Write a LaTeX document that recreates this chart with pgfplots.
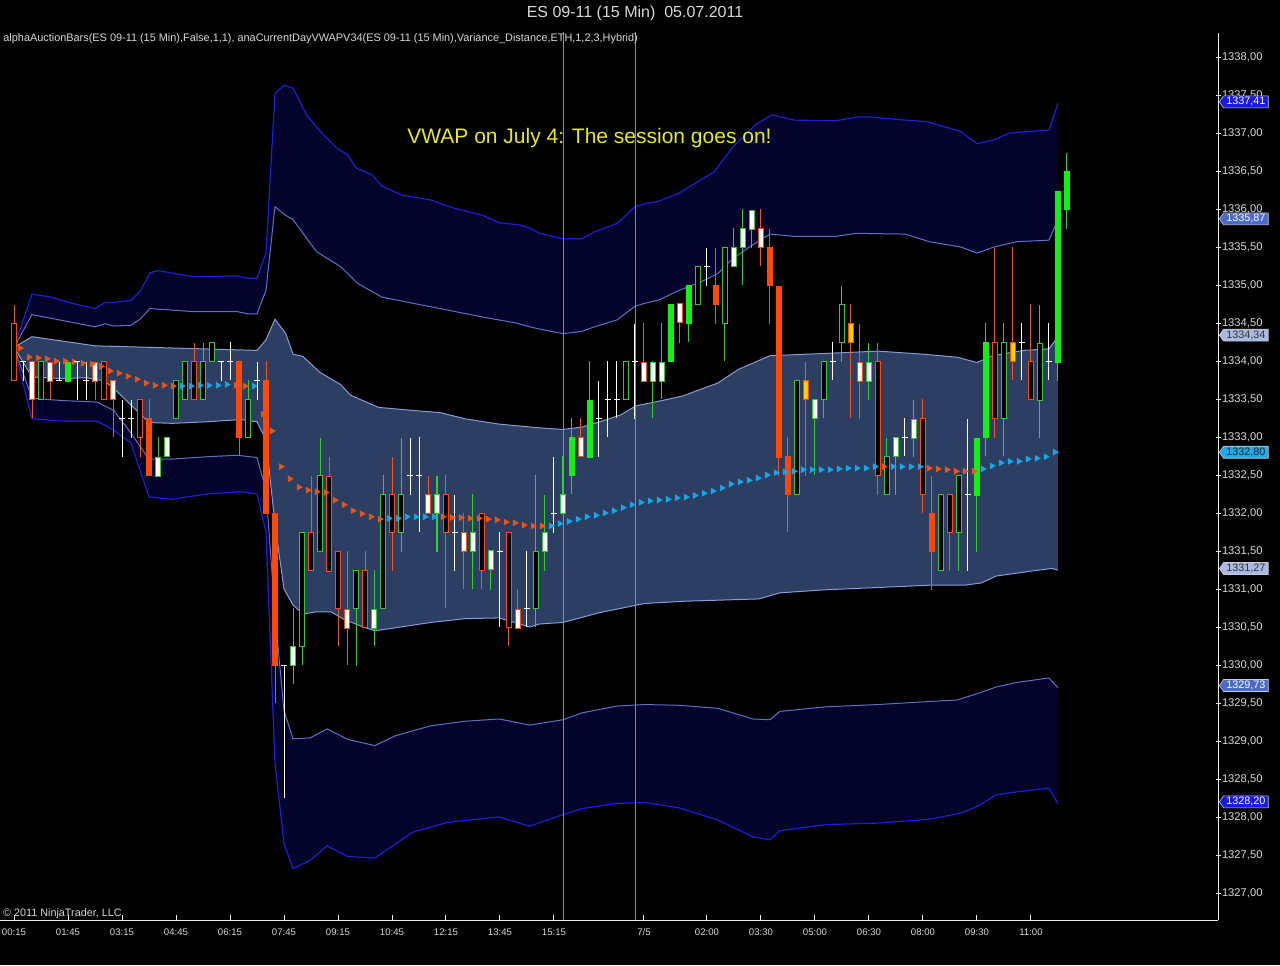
\documentclass[border=0pt]{standalone}
\usepackage{pgfplots}
\pgfplotsset{compat=1.18}
\usepackage{pgfplotstable}
\usepgfplotslibrary{fillbetween}
\usetikzlibrary{shapes.symbols}
\usepackage{fontspec}
\setmainfont{Liberation Sans}

\definecolor{cNavy}{RGB}{3,3,44}
\definecolor{cSlate}{RGB}{44,62,98}
\definecolor{cIII}{RGB}{30,30,215}
\definecolor{cII}{RGB}{95,112,200}
\definecolor{cI}{RGB}{135,155,215}
\definecolor{cSess}{RGB}{130,140,165}
\definecolor{cOr}{RGB}{255,72,10}
\definecolor{cOrW}{RGB}{235,88,40}
\definecolor{cGrF}{RGB}{20,240,20}
\definecolor{cGrO}{RGB}{50,200,50}
\definecolor{cGrW}{RGB}{50,205,50}
\definecolor{cYel}{RGB}{250,210,0}
\definecolor{cVo}{RGB}{232,86,30}
\definecolor{cVc}{RGB}{26,165,230}
\definecolor{cAx}{RGB}{235,235,235}
\definecolor{cTxt}{RGB}{215,215,215}
\definecolor{cNote}{RGB}{232,232,35}
\definecolor{cB1}{RGB}{25,25,225}
\definecolor{cB2}{RGB}{75,105,205}
\definecolor{cB3}{RGB}{170,185,225}
\definecolor{cB4}{RGB}{30,170,235}
\pagecolor{black}

% candles: i open high low close type
% type: 1 down hollow, 2 down filled, 3 down white, 4 yellow, 5 up hollow, 6 up filled, 7 up white, 8 doji
\pgfplotstableread{
i o h l c t
0 1334.50 1334.75 1333.75 1333.75 1
1 1334.00 1334.00 1333.75 1334.00 8
2 1334.00 1334.00 1333.25 1333.50 3
3 1333.50 1334.00 1333.50 1334.00 5
4 1334.00 1334.00 1333.50 1333.75 3
5 1333.75 1334.00 1333.75 1333.75 8
6 1333.75 1334.00 1333.75 1334.00 6
7 1334.00 1334.00 1333.50 1334.00 8
8 1333.75 1334.00 1333.50 1333.75 8
9 1334.00 1334.00 1333.50 1333.75 3
10 1334.00 1334.00 1333.50 1333.50 1
11 1333.75 1333.75 1333.00 1333.50 3
12 1333.25 1333.50 1332.75 1333.25 8
13 1333.25 1333.50 1333.00 1333.25 8
14 1333.50 1333.50 1332.75 1333.00 1
15 1333.25 1333.50 1332.50 1332.50 2
16 1332.50 1333.00 1332.50 1332.75 7
17 1332.75 1333.00 1332.75 1333.00 7
18 1333.25 1333.75 1333.25 1333.75 5
19 1333.50 1334.00 1333.50 1334.00 5
20 1334.00 1334.25 1333.50 1333.50 1
21 1333.50 1334.25 1333.50 1334.00 5
22 1334.00 1334.25 1334.00 1334.25 5
23 1334.00 1334.00 1333.75 1334.00 8
24 1334.00 1334.25 1333.75 1334.00 8
25 1334.00 1334.00 1332.75 1333.00 2
26 1333.00 1333.75 1333.00 1333.50 5
27 1333.75 1334.00 1333.50 1333.75 8
28 1333.75 1334.00 1332.00 1332.00 2
29 1332.00 1332.00 1329.50 1330.00 2
30 1330.00 1330.00 1328.25 1330.00 8
31 1330.00 1330.75 1329.75 1330.25 7
32 1330.25 1331.75 1330.00 1331.75 5
33 1331.75 1332.50 1331.25 1331.25 1
34 1331.50 1333.00 1331.50 1332.50 5
35 1332.50 1332.75 1331.25 1331.25 1
36 1331.50 1331.50 1330.25 1330.75 1
37 1330.75 1331.50 1330.00 1330.50 3
38 1330.75 1331.25 1330.00 1331.25 5
39 1331.25 1331.50 1330.50 1330.50 1
40 1330.50 1331.25 1330.25 1330.75 7
41 1330.75 1332.50 1330.75 1332.25 5
42 1332.25 1332.75 1331.25 1331.75 1
43 1331.75 1333.00 1331.50 1332.25 5
44 1332.50 1333.00 1332.25 1332.50 8
45 1332.50 1333.00 1331.75 1332.50 8
46 1332.25 1332.50 1332.00 1332.00 3
47 1332.00 1332.50 1331.50 1332.25 7
48 1332.25 1332.50 1330.75 1331.75 1
49 1331.75 1332.25 1331.25 1331.75 8
50 1331.75 1332.00 1331.00 1331.50 3
51 1331.50 1332.25 1331.00 1331.75 7
52 1332.00 1332.00 1331.00 1331.25 1
53 1331.25 1331.50 1331.00 1331.50 7
54 1331.50 1331.75 1330.50 1331.50 8
55 1331.75 1331.75 1330.25 1330.50 1
56 1330.75 1331.00 1330.50 1330.50 3
57 1330.75 1331.50 1330.50 1330.75 8
58 1330.75 1332.50 1330.50 1331.50 5
59 1331.50 1332.25 1331.25 1331.75 7
60 1332.00 1332.75 1331.75 1332.00 8
61 1332.00 1332.75 1332.00 1332.25 7
62 1332.50 1333.25 1332.25 1333.00 6
63 1333.00 1333.25 1332.75 1332.75 3
64 1332.75 1334.00 1332.75 1333.50 6
65 1333.25 1333.75 1332.75 1333.25 8
66 1333.50 1334.00 1333.00 1333.50 8
67 1333.50 1334.00 1333.25 1333.50 8
68 1333.50 1334.00 1333.50 1334.00 5
69 1334.00 1334.50 1333.25 1334.00 8
70 1334.00 1334.50 1333.75 1333.75 3
71 1333.75 1334.00 1333.25 1334.00 7
72 1333.75 1334.50 1333.50 1334.00 7
73 1334.00 1334.75 1334.00 1334.75 6
74 1334.75 1334.75 1334.25 1334.50 3
75 1334.50 1335.00 1334.25 1335.00 6
76 1334.75 1335.25 1334.75 1335.25 5
77 1335.25 1335.50 1335.00 1335.25 8
78 1335.00 1335.50 1334.50 1334.75 2
79 1334.50 1335.50 1334.00 1335.50 5
80 1335.25 1335.75 1335.25 1335.50 7
81 1335.50 1336.00 1335.00 1335.75 7
82 1335.75 1336.00 1335.50 1336.00 7
83 1335.75 1336.00 1335.25 1335.50 3
84 1335.50 1335.75 1334.50 1335.00 2
85 1335.00 1335.00 1332.50 1332.75 2
86 1332.75 1333.00 1331.75 1332.25 2
87 1332.25 1333.75 1332.25 1333.75 5
88 1333.75 1334.00 1332.50 1333.50 4
89 1333.25 1333.50 1332.50 1333.50 7
90 1333.50 1334.00 1333.25 1334.00 5
91 1334.00 1334.25 1333.75 1334.00 8
92 1334.25 1335.00 1334.00 1334.75 5
93 1334.50 1334.75 1333.25 1334.25 4
94 1334.00 1334.50 1333.25 1333.75 3
95 1333.75 1334.25 1333.50 1334.00 7
96 1334.00 1334.25 1332.25 1332.50 1
97 1332.25 1333.00 1332.25 1332.75 5
98 1332.75 1333.00 1332.25 1333.00 7
99 1333.00 1333.25 1332.75 1333.00 8
100 1333.00 1333.50 1332.75 1333.25 7
101 1333.25 1333.50 1332.00 1332.25 1
102 1332.00 1332.50 1331.00 1331.50 2
103 1331.25 1332.25 1331.25 1332.25 5
104 1332.25 1332.25 1331.25 1331.75 1
105 1331.75 1332.50 1331.25 1332.50 5
106 1332.25 1333.25 1331.25 1332.25 8
107 1332.25 1333.00 1331.50 1333.00 6
108 1333.00 1334.50 1332.75 1334.25 6
109 1334.25 1335.50 1333.00 1333.25 1
110 1333.25 1334.50 1332.75 1334.25 5
111 1334.25 1335.50 1333.75 1334.00 4
112 1334.25 1334.50 1333.75 1334.25 8
113 1334.00 1334.75 1333.50 1333.50 1
114 1333.50 1334.75 1333.00 1334.25 5
115 1334.00 1334.50 1333.75 1334.00 8
116 1334.00 1336.25 1333.75 1336.25 6
117 1336.00 1336.75 1335.75 1336.50 6
}\candles

% VWAP: i value k (0 falling/orange, 1 rising/cyan)
\pgfplotstableread{
i v k
1 1334.17 0
2 1334.05 0
3 1334.04 0
4 1334.03 0
5 1334.00 0
6 1334.00 0
7 1333.99 0
8 1333.97 0
9 1333.96 0
10 1333.93 0
11 1333.87 0
12 1333.84 0
13 1333.80 0
14 1333.76 0
15 1333.71 0
16 1333.68 0
17 1333.68 0
18 1333.67 0
19 1333.67 1
20 1333.67 1
21 1333.68 1
22 1333.68 1
23 1333.68 1
24 1333.69 1
25 1333.68 0
26 1333.67 0
27 1333.67 1
28 1333.30 0
29 1333.08 0
30 1332.61 0
31 1332.45 0
32 1332.34 0
33 1332.30 0
34 1332.28 0
35 1332.27 0
36 1332.17 0
37 1332.11 0
38 1332.03 0
39 1331.99 0
40 1331.95 0
41 1331.92 0
42 1331.93 1
43 1331.93 1
44 1331.95 1
45 1331.95 1
46 1331.95 1
47 1331.95 1
48 1331.95 0
49 1331.94 0
50 1331.94 0
51 1331.93 0
52 1331.93 0
53 1331.92 0
54 1331.91 0
55 1331.88 0
56 1331.87 0
57 1331.84 0
58 1331.83 0
59 1331.83 0
60 1331.83 1
61 1331.86 1
62 1331.89 1
63 1331.92 1
64 1331.95 1
65 1331.97 1
66 1332.00 1
67 1332.03 1
68 1332.07 1
69 1332.11 1
70 1332.14 1
71 1332.16 1
72 1332.17 1
73 1332.18 1
74 1332.20 1
75 1332.21 1
76 1332.23 1
77 1332.26 1
78 1332.29 1
79 1332.33 1
80 1332.38 1
81 1332.41 1
82 1332.43 1
83 1332.46 1
84 1332.50 1
85 1332.53 1
86 1332.54 1
87 1332.55 1
88 1332.57 1
89 1332.57 1
90 1332.57 1
91 1332.57 1
92 1332.58 1
93 1332.59 1
94 1332.59 1
95 1332.59 1
96 1332.61 1
97 1332.61 0
98 1332.61 1
99 1332.61 1
100 1332.61 1
101 1332.61 1
102 1332.59 0
103 1332.58 0
104 1332.57 0
105 1332.55 0
106 1332.55 0
107 1332.55 0
108 1332.58 1
109 1332.62 1
110 1332.66 1
111 1332.68 1
112 1332.68 1
113 1332.71 1
114 1332.72 1
115 1332.74 1
116 1332.80 1
}\vwap

% band lines
\pgfplotstableread{
i p
0 1334.18
2 1334.88
4.2 1334.84
6.1 1334.77
9 1334.69
10.1 1334.77
11.1 1334.77
13 1334.80
14.1 1334.93
15.1 1335.16
16 1335.19
19.9 1335.11
24.8 1335.12
26 1335.09
27 1335.09
28 1335.42
29 1337.52
30 1337.63
31 1337.59
32.5 1337.24
34.2 1337.00
35.9 1336.80
37.1 1336.71
38 1336.54
39.8 1336.45
40.9 1336.30
43.2 1336.18
46.3 1336.12
48.9 1336.01
52 1335.92
53.9 1335.82
56.2 1335.79
57.3 1335.75
58.4 1335.68
61 1335.61
63.1 1335.61
64.5 1335.70
67 1335.81
69 1336.03
70.1 1336.07
71.6 1336.10
73.9 1336.21
77.8 1336.49
79.9 1336.82
82.4 1337.11
84.2 1337.24
86.7 1337.17
91.3 1337.16
93.6 1337.21
95.2 1337.21
99 1337.17
101.4 1337.15
105.2 1337.02
107 1336.86
108.9 1336.91
110.6 1337.00
112.9 1337.02
115 1337.04
116 1337.39
}\uIII

\pgfplotstableread{
i p
0 1334.18
2 1334.61
4.2 1334.56
9 1334.45
10.1 1334.49
11.1 1334.46
13 1334.47
14 1334.55
15.1 1334.69
19.9 1334.65
24.8 1334.65
26 1334.62
27 1334.62
28 1334.93
29 1336.03
30 1335.93
31 1335.86
33.6 1335.44
36.3 1335.24
38.2 1335.02
40.9 1334.84
44.3 1334.76
48.2 1334.67
52 1334.58
55.8 1334.50
57.3 1334.45
58.4 1334.42
61 1334.36
63.1 1334.39
64.5 1334.45
67 1334.54
69 1334.72
70.1 1334.76
71.6 1334.80
73.9 1334.93
76.3 1335.04
78.2 1335.15
79.7 1335.33
81.7 1335.50
84 1335.67
86.7 1335.64
91.3 1335.64
93.6 1335.68
99 1335.67
101.7 1335.57
105.2 1335.50
107 1335.42
108.9 1335.50
111.4 1335.57
115 1335.59
116 1335.86
}\uII

\pgfplotstableread{
i p
0 1334.18
2 1334.32
9 1334.20
15 1334.18
27 1334.14
28 1334.28
29 1334.55
30.2 1334.36
31 1334.09
32.1 1334.06
34 1333.85
36.3 1333.69
37.4 1333.55
40.5 1333.39
44.3 1333.35
47.4 1333.32
50.1 1333.24
53.9 1333.17
58.4 1333.12
61 1333.10
63.1 1333.13
65.1 1333.20
67.4 1333.29
69.1 1333.41
72 1333.48
74.3 1333.54
78.2 1333.71
80.5 1333.89
84 1334.07
90.2 1334.10
96 1334.13
101 1334.09
104.8 1334.05
107 1333.98
108.7 1334.07
112.2 1334.14
115 1334.16
116 1334.32
}\uI

\pgfplotstableread{
i p
0 1334.18
2 1333.79
5.3 1333.77
8 1333.78
10 1333.74
11.1 1333.64
13 1333.42
15 1333.19
17.6 1333.18
21.4 1333.20
25.2 1333.23
27 1333.20
28 1332.96
29 1331.85
30 1331.00
31 1330.79
32.1 1330.67
33.6 1330.70
35.2 1330.70
36.7 1330.60
38.6 1330.51
40.1 1330.45
42.4 1330.49
46.3 1330.56
50.1 1330.61
53.9 1330.62
57.3 1330.50
58.4 1330.54
61 1330.56
65.1 1330.69
70.1 1330.81
74.7 1330.84
82.8 1330.87
85.1 1330.95
90.2 1330.99
96 1331.02
101.7 1331.05
105.6 1331.05
107.5 1331.08
109.1 1331.17
113.3 1331.24
115.3 1331.27
116 1331.25
}\lI

\pgfplotstableread{
i p
0 1334.18
2 1333.51
5.3 1333.48
9.2 1333.46
11.1 1333.35
13 1333.05
15 1332.71
17.6 1332.71
21.4 1332.74
24.8 1332.76
27 1332.73
28 1332.30
29 1330.67
30 1329.40
31 1329.03
32.9 1329.04
34.8 1329.16
37.1 1329.02
40.1 1328.94
42.4 1329.07
46.3 1329.20
50.1 1329.26
53.9 1329.29
57.3 1329.21
61 1329.28
63.1 1329.37
67 1329.46
70.1 1329.48
73.9 1329.47
78.2 1329.43
82.1 1329.29
84 1329.28
85.1 1329.39
90.2 1329.45
96 1329.48
101.7 1329.52
104.8 1329.54
107.2 1329.63
109.1 1329.71
111.4 1329.77
115 1329.83
116 1329.70
}\lII

\pgfplotstableread{
i p
0 1334.18
2 1333.24
5.3 1333.21
9.2 1333.21
11.1 1333.09
13 1332.92
15 1332.21
17.6 1332.18
21.4 1332.25
25.2 1332.28
27 1332.25
28 1331.75
29 1328.70
30 1327.65
31 1327.32
32.9 1327.43
34.8 1327.62
37.1 1327.48
40.1 1327.46
44.3 1327.80
48.2 1327.93
53.9 1328.00
57.3 1327.88
61 1328.03
63.1 1328.11
67 1328.18
70.1 1328.19
73.9 1328.12
78.2 1327.96
82.1 1327.74
84 1327.70
85.1 1327.82
90.2 1327.90
96 1327.92
101.7 1327.97
105.2 1328.05
107.2 1328.15
109.1 1328.29
111.4 1328.33
115 1328.38
116 1328.17
}\lIII

\pgfplotsset{
  cbody/.style n args={3}{forget plot, draw=none, mark=none,
    restrict expr to domain={\thisrow{t}}{#1},
    error bars/.cd, y dir=both, y explicit, error mark=none,
    error bar style={line width=#2, draw=#3, line cap=butt, solid}},
}
\tikzset{
  pbox/.style={signal, signal to=west, signal pointer angle=110, anchor=west,
    minimum height=6pt, inner xsep=1.4pt, inner ysep=0.4pt,
    font=\fontsize{5.4}{6}\selectfont, draw=white!80!black, line width=0.3pt},
}

\begin{document}
\begin{tikzpicture}
\begin{axis}[
  at={(0pt,22.5pt)}, anchor=south west,
  width=609pt, height=443.5pt, scale only axis,
  xmin=-1.556, xmax=133.78, ymin=1326.645, ymax=1338.316,
  axis x line*=bottom, axis y line*=right,
  axis line style={draw=cAx, line width=0.5pt},
  tick align=inside, major tick length=2.5pt,
  tick style={draw=cAx, line width=0.5pt},
  y tick style={xshift=1.5pt},
  xtick={0,6,12,18,24,30,36,42,48,54,60,70,77,83,89,95,101,107,113},
  xticklabels={00:15,01:45,03:15,04:45,06:15,07:45,09:15,10:45,12:15,13:45,15:15,7/5,02:00,03:30,05:00,06:30,08:00,09:30,11:00},
  ytick={1327,1327.5,1328,1328.5,1329,1329.5,1330,1330.5,1331,1331.5,1332,1332.5,1333,1333.5,1334,1334.5,1335,1335.5,1336,1336.5,1337,1337.5,1338},
  xticklabel style={font=\fontsize{4.8}{5.5}\selectfont, text=cTxt, yshift=-0.9pt},
  yticklabel style={font=\fontsize{5.6}{6.5}\selectfont, text=cTxt, inner xsep=0pt, xshift=1.8pt,
    /pgf/number format/.cd, fixed, fixed zerofill, precision=2, use comma, 1000 sep={}, assume math mode=true},
]
% band paths
\addplot[name path=UIII, draw=none, forget plot] table[x=i,y=p] {\uIII};
\addplot[name path=LIII, draw=none, forget plot] table[x=i,y=p] {\lIII};
\addplot[name path=UII, draw=none, forget plot] table[x=i,y=p] {\uII};
\addplot[name path=LII, draw=none, forget plot] table[x=i,y=p] {\lII};
\addplot[name path=UI, draw=none, forget plot] table[x=i,y=p] {\uI};
\addplot[name path=LI, draw=none, forget plot] table[x=i,y=p] {\lI};
\addplot[fill=cNavy, draw=none, forget plot] fill between[of=UIII and LIII];
\addplot[fill=black, draw=none, forget plot] fill between[of=UII and LII];
\addplot[fill=cSlate, draw=none, forget plot] fill between[of=UI and LI];
\addplot[cIII, line width=0.6pt, forget plot] table[x=i,y=p] {\uIII};
\addplot[cIII, line width=0.6pt, forget plot] table[x=i,y=p] {\lIII};
\addplot[cII, line width=0.5pt, forget plot] table[x=i,y=p] {\uII};
\addplot[cII, line width=0.5pt, forget plot] table[x=i,y=p] {\lII};
\addplot[cI, line width=0.5pt, forget plot] table[x=i,y=p] {\uI};
\addplot[cI, line width=0.5pt, forget plot] table[x=i,y=p] {\lI};
% session breaks
\addplot[cSess, line width=0.5pt, forget plot] coordinates {(61.1,1326.645) (61.1,1338.4)};
\addplot[cSess, line width=0.5pt, forget plot] coordinates {(69.1,1326.645) (69.1,1338.4)};
% VWAP markers
\addplot[forget plot, only marks, mark=triangle*, mark size=1.6pt, color=cVo,
  mark options={rotate=-90, draw=none, fill=cVo},
  restrict expr to domain={\thisrow{k}}{-0.5:0.5}] table[x expr=\thisrow{i}-0.35, y=v] {\vwap};
\addplot[forget plot, only marks, mark=triangle*, mark size=1.6pt, color=cVc,
  mark options={rotate=-90, draw=none, fill=cVc},
  restrict expr to domain={\thisrow{k}}{0.5:1.5}] table[x expr=\thisrow{i}-0.35, y=v] {\vwap};
% wicks
\addplot[cbody={0.5:4.5}{0.5pt}{cOrW}] table[x=i, y expr={(\thisrow{h}+\thisrow{l})/2}, y error expr={(\thisrow{h}-\thisrow{l})/2}] {\candles};
\addplot[cbody={4.5:7.5}{0.5pt}{cGrW}] table[x=i, y expr={(\thisrow{h}+\thisrow{l})/2}, y error expr={(\thisrow{h}-\thisrow{l})/2}] {\candles};
\addplot[cbody={7.5:8.5}{0.5pt}{white}] table[x=i, y expr={(\thisrow{h}+\thisrow{l})/2}, y error expr={(\thisrow{h}-\thisrow{l})/2}] {\candles};
% bodies outer
\addplot[cbody={0.5:4.5}{2.75pt}{cOr}] table[x=i, y expr={(\thisrow{o}+\thisrow{c})/2}, y error expr={abs(\thisrow{o}-\thisrow{c})/2+0.0066}] {\candles};
\addplot[cbody={4.5:5.5}{2.75pt}{cGrO}] table[x=i, y expr={(\thisrow{o}+\thisrow{c})/2}, y error expr={abs(\thisrow{o}-\thisrow{c})/2+0.0066}] {\candles};
\addplot[cbody={6.5:7.5}{2.75pt}{cGrO}] table[x=i, y expr={(\thisrow{o}+\thisrow{c})/2}, y error expr={abs(\thisrow{o}-\thisrow{c})/2+0.0066}] {\candles};
\addplot[cbody={5.5:6.5}{2.75pt}{cGrF}] table[x=i, y expr={(\thisrow{o}+\thisrow{c})/2}, y error expr={abs(\thisrow{o}-\thisrow{c})/2+0.0066}] {\candles};
% bodies inner
\addplot[cbody={0.5:1.5}{1.75pt}{black}] table[x=i, y expr={(\thisrow{o}+\thisrow{c})/2}, y error expr={abs(\thisrow{o}-\thisrow{c})/2-0.0066}] {\candles};
\addplot[cbody={2.5:3.5}{1.75pt}{white}] table[x=i, y expr={(\thisrow{o}+\thisrow{c})/2}, y error expr={abs(\thisrow{o}-\thisrow{c})/2-0.0066}] {\candles};
\addplot[cbody={3.5:4.5}{1.75pt}{cYel}] table[x=i, y expr={(\thisrow{o}+\thisrow{c})/2}, y error expr={abs(\thisrow{o}-\thisrow{c})/2-0.0066}] {\candles};
\addplot[cbody={4.5:5.5}{1.75pt}{black}] table[x=i, y expr={(\thisrow{o}+\thisrow{c})/2}, y error expr={abs(\thisrow{o}-\thisrow{c})/2-0.0066}] {\candles};
\addplot[cbody={6.5:7.5}{1.75pt}{white}] table[x=i, y expr={(\thisrow{o}+\thisrow{c})/2}, y error expr={abs(\thisrow{o}-\thisrow{c})/2-0.0066}] {\candles};
% doji close ticks
\addplot[forget plot, only marks, mark=-, mark size=1.3pt, color=white,
  mark options={white, line width=0.5pt},
  restrict expr to domain={\thisrow{t}}{7.5:8.5}] table[x=i, y=c] {\candles};
% price marker anchors
\coordinate (q1) at (axis cs:133.78,1337.41);
\coordinate (q2) at (axis cs:133.78,1335.87);
\coordinate (q3) at (axis cs:133.78,1334.34);
\coordinate (q4) at (axis cs:133.78,1332.80);
\coordinate (q5) at (axis cs:133.78,1331.27);
\coordinate (q6) at (axis cs:133.78,1329.73);
\coordinate (q7) at (axis cs:133.78,1328.20);
\end{axis}
\node[pbox, fill=cB1, text=white] at ([xshift=0.5pt]q1) {1337,41};
\node[pbox, fill=cB2, text=white] at ([xshift=0.5pt]q2) {1335,87};
\node[pbox, fill=cB3, text=black!80] at ([xshift=0.5pt]q3) {1334,34};
\node[pbox, fill=cB4, text=black!85] at ([xshift=0.5pt]q4) {1332,80};
\node[pbox, fill=cB3, text=black!80] at ([xshift=0.5pt]q5) {1331,27};
\node[pbox, fill=cB2, text=white] at ([xshift=0.5pt]q6) {1329,73};
\node[pbox, fill=cB1, text=white] at ([xshift=0.5pt]q7) {1328,20};
% texts
\node[text=cTxt, font=\fontsize{8}{9.6}\selectfont] at (317.5pt,476pt) {ES 09-11 (15 Min)\ \ 05.07.2011};
\node[text=cTxt, font=\fontsize{5.45}{6.4}\selectfont, anchor=west, inner sep=0pt] at (1.5pt,463pt) {alphaAuctionBars(ES 09-11 (15 Min),False,1,1), anaCurrentDayVWAPV34(ES 09-11 (15 Min),Variance\_Distance,ETH,1,2,3,Hybrid)};
\node[text=cTxt, font=\fontsize{5.4}{6.4}\selectfont, anchor=west, inner sep=0pt] at (1.4pt,25.8pt) {© 2011 NinjaTrader, LLC};
\node[text=cNote, font=\fontsize{10.5}{12}\selectfont] at (294.75pt,413.5pt) {VWAP on July 4: The session goes on!};
\pgfresetboundingbox
\path[use as bounding box] (0,0) rectangle (640pt,482.5pt);
\end{tikzpicture}
\end{document}
